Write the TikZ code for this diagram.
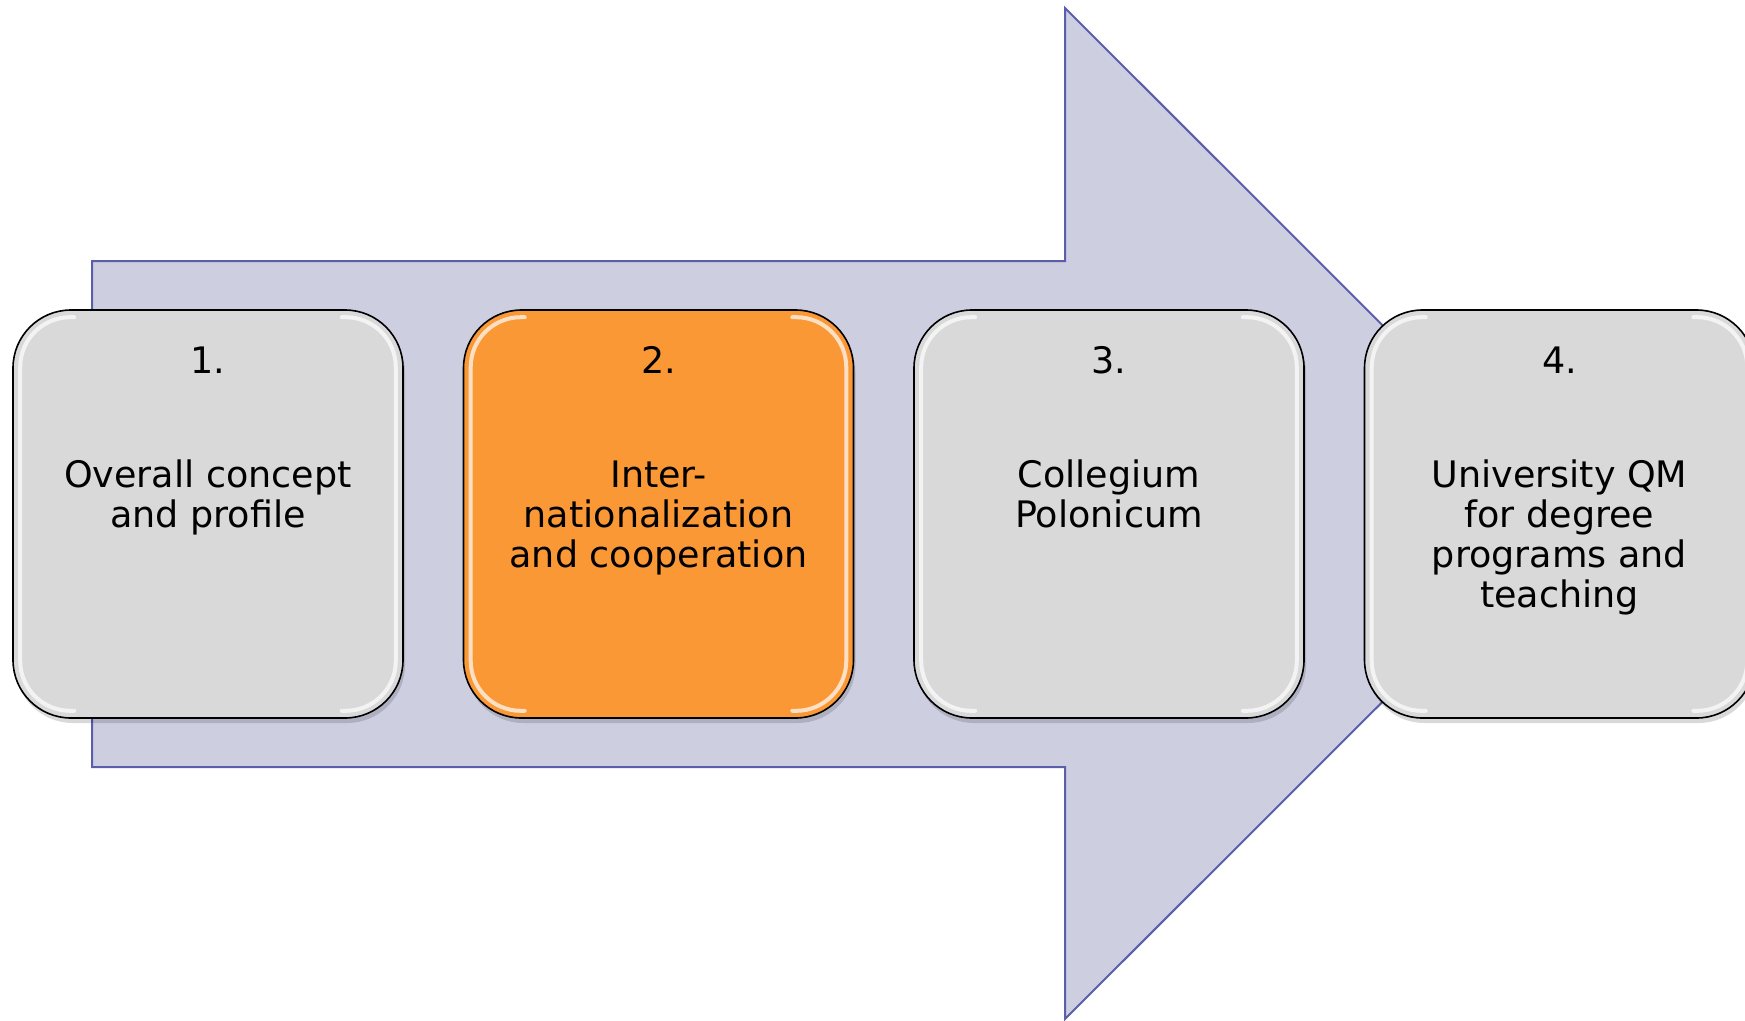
\documentclass[tikz,border=0pt]{standalone}
\usepackage{fontspec}
\setmainfont{DejaVu Sans}
\definecolor{arrowfill}{HTML}{CDCFE1}
\definecolor{arrowline}{HTML}{5B5EAA}
\definecolor{boxgray}{HTML}{D9D9D9}
\definecolor{boxorange}{HTML}{FA9836}
\newcommand\boxtext[1]{\begin{tabular}[t]{@{}c@{}}#1\end{tabular}}
\tikzset{
  stepbox/.style={draw=black, line width=1.6pt, rounded corners=58pt,
    minimum width=390pt, minimum height=408pt, inner sep=0pt, fill=boxgray},
  orangebox/.style={stepbox, fill=boxorange},
  boxshadow/.style={fill=black, opacity=0.15, rounded corners=58pt},
  bevel/.style={draw=white, line width=4pt, opacity=0.7, rounded corners=50pt, line cap=round},
  numtext/.style={anchor=base, inner sep=0pt, font=\fontsize{36.5}{40}\selectfont},
  bodytext/.style={anchor=base, inner sep=0pt, font=\fontsize{36.5}{40}\selectfont},
}
\begin{document}
\begin{tikzpicture}[x=1pt,y=-1pt]
\useasboundingbox[fill=white] (0,0) rectangle (1745,1020);
% big arrow
\draw[fill=arrowfill, draw=arrowline, line width=2pt, line join=miter]
  (92,261) -- (1065,261) -- (1065,8) -- (1571,513.5) -- (1065,1019)
  -- (1065,767) -- (92,767) -- cycle;
% boxes
\foreach \cx in {208,658.5,1109,1559.5}{
  \fill[boxshadow] (\cx-195+2,310+5) rectangle (\cx+195+2,718+5);
}
\node[stepbox]   (b1) at (208,514) {};
\node[orangebox] (b2) at (658.5,514) {};
\node[stepbox]   (b3) at (1109,514) {};
\node[stepbox]   (b4) at (1559.5,514) {};
\foreach \b in {b1,b2,b3,b4}{
  \draw[bevel] ([xshift=62pt,yshift=-8pt]\b.north west) -- ([xshift=8pt,yshift=-8pt]\b.north west)
     -- ([xshift=8pt,yshift=8pt]\b.south west) -- ([xshift=62pt,yshift=8pt]\b.south west);
  \draw[bevel] ([xshift=-62pt,yshift=-8pt]\b.north east) -- ([xshift=-8pt,yshift=-8pt]\b.north east)
     -- ([xshift=-8pt,yshift=8pt]\b.south east) -- ([xshift=-62pt,yshift=8pt]\b.south east);
}
% texts
\node[numtext] (n1) at (208,373) {1.};
\node[numtext] (n2) at (658.5,373) {2.};
\node[numtext] (n3) at (1109,373) {3.};
\node[numtext] (n4) at (1559.5,373) {4.};
\node[bodytext] (t1) at (208,487) {\boxtext{Overall concept\\and profile}};
\node[bodytext] (t2) at (658.5,487) {\boxtext{Inter-\\nationalization\\and cooperation}};
\node[bodytext] (t3) at (1109,487) {\boxtext{Collegium\\Polonicum}};
\node[bodytext] (t4) at (1559.5,487) {\boxtext{University QM\\for degree\\programs and\\teaching}};
\end{tikzpicture}
\end{document}
